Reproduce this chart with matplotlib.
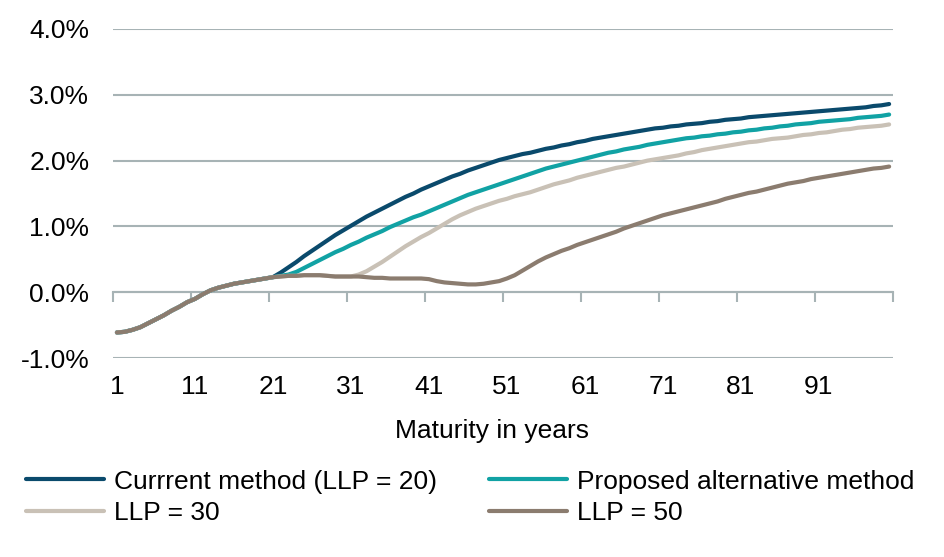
import matplotlib
matplotlib.use('Agg')
import matplotlib.pyplot as plt
from matplotlib.ticker import FixedLocator, PercentFormatter

plt.rcParams['font.family'] = ['Liberation Sans', 'DejaVu Sans']
plt.rcParams['font.size'] = 19
plt.rcParams['axes.unicode_minus'] = False

years = list(range(1, 101))

# shared start of all curves (years 1-21)
common = [-0.61, -0.60, -0.57, -0.53, -0.47, -0.41, -0.35, -0.28, -0.22, -0.15,
          -0.10, -0.03, 0.03, 0.07, 0.10, 0.13, 0.15, 0.17, 0.19, 0.21, 0.23]

current_llp20 = common + [
    0.30, 0.38, 0.46, 0.55, 0.63, 0.71, 0.79, 0.87, 0.94,
    1.01, 1.08, 1.15, 1.21, 1.27, 1.33, 1.39, 1.45, 1.50, 1.56,
    1.61, 1.66, 1.71, 1.76, 1.80, 1.85, 1.89, 1.93, 1.97, 2.01,
    2.04, 2.07, 2.10, 2.12, 2.15, 2.18, 2.20, 2.23, 2.25, 2.28,
    2.30, 2.33, 2.35, 2.37, 2.39, 2.41, 2.43, 2.45, 2.47, 2.49,
    2.50, 2.52, 2.53, 2.55, 2.56, 2.57, 2.59, 2.60, 2.62, 2.63,
    2.64, 2.66, 2.67, 2.68, 2.69, 2.70, 2.71, 2.72, 2.73, 2.74,
    2.75, 2.76, 2.77, 2.78, 2.79, 2.80, 2.81, 2.83, 2.84, 2.86]

proposed = common + [
    0.25, 0.27, 0.31, 0.37, 0.43, 0.49, 0.55, 0.61, 0.66,
    0.72, 0.77, 0.83, 0.88, 0.93, 0.99, 1.04, 1.09, 1.14, 1.18,
    1.23, 1.28, 1.33, 1.38, 1.43, 1.48, 1.52, 1.56, 1.60, 1.64,
    1.68, 1.72, 1.76, 1.80, 1.84, 1.88, 1.91, 1.94, 1.97, 2.00,
    2.03, 2.06, 2.09, 2.12, 2.14, 2.17, 2.19, 2.21, 2.24, 2.26,
    2.28, 2.30, 2.32, 2.34, 2.35, 2.37, 2.38, 2.40, 2.41, 2.43,
    2.44, 2.46, 2.47, 2.49, 2.50, 2.52, 2.53, 2.55, 2.56, 2.57,
    2.59, 2.60, 2.61, 2.62, 2.63, 2.65, 2.66, 2.67, 2.68, 2.70]

llp30 = common + [
    0.24, 0.25, 0.25, 0.26, 0.26, 0.26, 0.25, 0.24, 0.24,
    0.24, 0.27, 0.32, 0.39, 0.46, 0.54, 0.62, 0.70, 0.77, 0.84,
    0.90, 0.97, 1.04, 1.11, 1.17, 1.22, 1.27, 1.31, 1.35, 1.39,
    1.42, 1.46, 1.49, 1.52, 1.56, 1.60, 1.64, 1.67, 1.70, 1.74,
    1.77, 1.80, 1.83, 1.86, 1.89, 1.91, 1.94, 1.97, 2.00, 2.02,
    2.04, 2.06, 2.08, 2.11, 2.13, 2.16, 2.18, 2.20, 2.22, 2.24,
    2.26, 2.28, 2.29, 2.31, 2.33, 2.34, 2.35, 2.37, 2.39, 2.40,
    2.42, 2.43, 2.45, 2.47, 2.48, 2.50, 2.51, 2.52, 2.53, 2.55]

llp50 = common + [
    0.24, 0.25, 0.25, 0.26, 0.26, 0.26, 0.25, 0.24, 0.24,
    0.24, 0.24, 0.23, 0.22, 0.22, 0.21, 0.21, 0.21, 0.21, 0.21,
    0.20, 0.17, 0.15, 0.14, 0.13, 0.12, 0.12, 0.13, 0.15, 0.17,
    0.21, 0.26, 0.33, 0.40, 0.47, 0.53, 0.58, 0.63, 0.67, 0.72,
    0.76, 0.80, 0.84, 0.88, 0.92, 0.97, 1.01, 1.05, 1.09, 1.13,
    1.17, 1.20, 1.23, 1.26, 1.29, 1.32, 1.35, 1.38, 1.42, 1.45,
    1.48, 1.51, 1.53, 1.56, 1.59, 1.62, 1.65, 1.67, 1.69, 1.72,
    1.74, 1.76, 1.78, 1.80, 1.82, 1.84, 1.86, 1.88, 1.89, 1.91]

labels = ['Currrent method (LLP = 20)', 'Proposed alternative method', 'LLP = 30', 'LLP = 50']
colors = ['#0a4a6c', '#11a2a4', '#c9c1b6', '#8b7c6f']
tick_labels = ['1', '11', '21', '31', '41', '51', '61', '71', '81', '91']
grid_color = '#a7b3b5'

fig = plt.figure(figsize=(9.45, 5.57), dpi=100)
ax = fig.add_axes([0.1196, 0.357, 0.8254, 0.591])

lines = []
for ys, lab, col in zip([current_llp20, proposed, llp30, llp50], labels, colors):
    ln, = ax.plot(years, ys, color=col, lw=3, label=lab, solid_capstyle='round')
    lines.append(ln)

ax.set_xlim(0.5, 100.5)
ax.set_ylim(-1, 4)
ax.set_yticks([-1, 0, 1, 2, 3, 4])
ax.yaxis.set_major_formatter(PercentFormatter(decimals=1))
ax.grid(axis='y', color=grid_color, lw=1.5)
ax.set_axisbelow(True)
for s in ax.spines.values():
    s.set_visible(False)
ax.tick_params(axis='y', length=0, pad=17)

# category labels under the plot, no tick marks
ax.set_xticks([int(t) for t in tick_labels])
ax.set_xticklabels(tick_labels)
ax.tick_params(axis='x', length=0, pad=12)

# category axis line with tick marks at the zero level
sec = ax.secondary_xaxis(0.2)
sec.xaxis.set_major_locator(FixedLocator([0.5 + 10 * i for i in range(11)]))
sec.tick_params(axis='x', length=7, width=1.5, color=grid_color, labelbottom=False)
sec.spines['bottom'].set_color(grid_color)
sec.spines['bottom'].set_linewidth(1.5)

ax.set_xlabel('Maturity in years')
ax.xaxis.set_label_coords(0.486, -0.185)

# legend fills row by row like the original
order = [0, 2, 1, 3]
fig.legend([lines[i] for i in order], [labels[i] for i in order], ncol=2,
           loc='upper left', bbox_to_anchor=(0.028, 0.157),
           frameon=False, handlelength=2.95, handletextpad=0.38, columnspacing=1.95,
           labelspacing=0.3, borderpad=0, borderaxespad=0)

plt.savefig('out.png', dpi=100)
